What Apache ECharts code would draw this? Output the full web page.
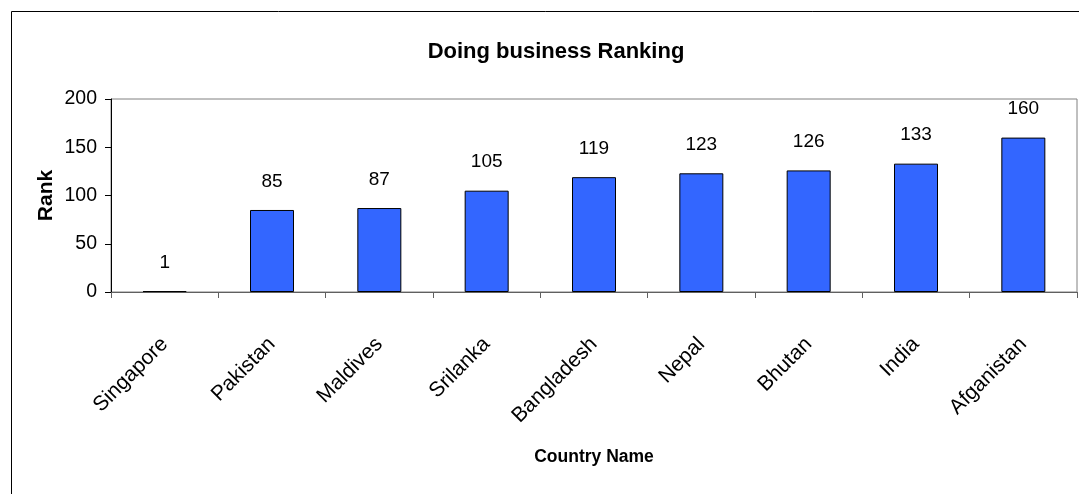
<!DOCTYPE html>
<html>
<head>
<meta charset="utf-8">
<script src="https://cdn.jsdelivr.net/npm/echarts@6/dist/echarts.min.js"></script>
<style>
  html, body { margin: 0; padding: 0; background: #fff; }
  #chart { width: 1079px; height: 494px; }
</style>
</head>
<body>
<div id="chart"></div>
<script>
// Doing business ranking by country
const countries = ['Singapore', 'Pakistan', 'Maldives', 'Srilanka', 'Bangladesh', 'Nepal', 'Bhutan', 'India', 'Afganistan'];
const ranks = [1, 85, 87, 105, 119, 123, 126, 133, 160];
const rankTicks = [0, 50, 100, 150, 200];

const FONT = '"Liberation Sans", Arial, sans-serif';

const chart = echarts.init(document.getElementById('chart'), null, { renderer: 'canvas' });

chart.setOption({
  backgroundColor: '#ffffff',
  animation: false,
  graphic: [{
    type: 'rect',
    shape: { x: 11.5, y: 11.5, width: 1200, height: 600 },
    style: { fill: 'none', stroke: '#000000', lineWidth: 1 },
    silent: true
  }],
  title: {
    text: 'Doing business Ranking',
    left: 551,
    textAlign: 'center',
    top: 36,
    textStyle: { fontFamily: FONT, fontWeight: 'bold', fontSize: 22, color: '#000' }
  },
  grid: {
    left: 111, right: 2, top: 99, bottom: 202,
    show: true, borderColor: '#808080', borderWidth: 1,
    containLabel: false
  },
  xAxis: {
    type: 'category',
    data: countries,
    boundaryGap: true,
    name: 'Country Name',
    nameLocation: 'middle',
    nameGap: 156,
    nameTextStyle: { fontFamily: FONT, fontWeight: 'bold', fontSize: 17.5, color: '#000' },
    axisLine: { lineStyle: { color: '#606060', width: 1 } },
    axisTick: { show: true, length: 6, alignWithLabel: false, lineStyle: { color: '#606060' } },
    axisLabel: {
      rotate: 45, margin: 49, interval: 0,
      fontFamily: FONT, fontSize: 21, color: '#000'
    },
    splitLine: { show: false }
  },
  yAxis: {
    type: 'value',
    min: rankTicks[0],
    max: rankTicks[rankTicks.length - 1],
    interval: rankTicks[1] - rankTicks[0],
    name: 'Rank',
    nameLocation: 'middle',
    nameGap: 54,
    nameMoveOverlap: false,
    nameRotate: 90,
    nameTextStyle: { fontFamily: FONT, fontWeight: 'bold', fontSize: 21, color: '#000' },
    axisLine: { show: true, lineStyle: { color: '#000', width: 1 } },
    axisTick: { show: true, inside: false, length: 6, lineStyle: { color: '#000' } },
    axisLabel: { margin: 14, fontFamily: FONT, fontSize: 19.5, color: '#000' },
    splitLine: { show: false }
  },
  series: [{
    type: 'bar',
    data: ranks,
    barWidth: 44,
    itemStyle: { color: '#3366FF', borderColor: '#000', borderWidth: 1 },
    label: {
      show: true, position: 'top', distance: 19,
      fontFamily: FONT, fontSize: 19, color: '#000'
    }
  }]
});
</script>
</body>
</html>
